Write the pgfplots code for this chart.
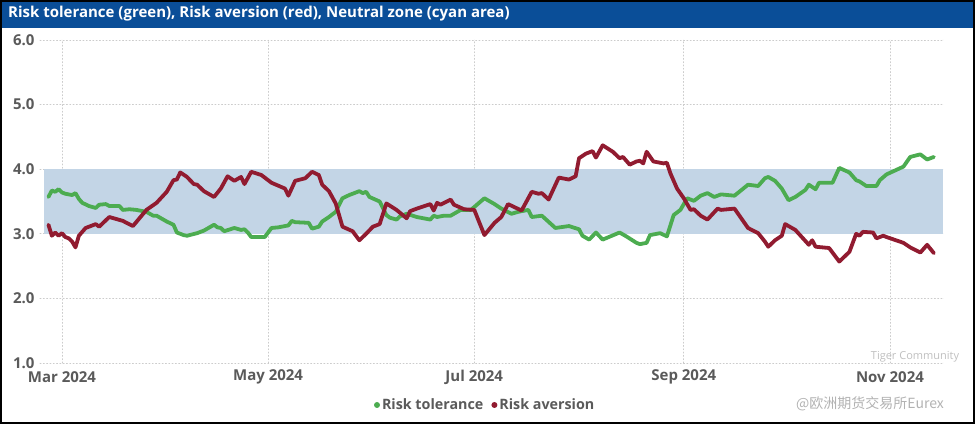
\documentclass[border=0pt]{standalone}
\usepackage{pgfplots}
\pgfplotsset{compat=1.18}
\usepackage{pgfplotstable}
\usepackage{fontspec}
\setmainfont{Open Sans}
\newfontfamily\cjk{Noto Sans CJK SC}

\definecolor{titleblue}{RGB}{10,78,152}
\definecolor{tolgreen}{RGB}{76,172,80}
\definecolor{averred}{RGB}{145,27,48}
\definecolor{zoneblue}{RGB}{195,213,230}
\definecolor{ticktext}{RGB}{90,90,90}

% x = days since 1 Mar 2024, y = indicator value
\pgfplotstableread{
d v
-4 3.57
-3 3.67
-2 3.65
-1 3.69
0 3.64
1 3.62
3 3.60
4 3.63
5 3.54
6 3.48
8 3.43
10 3.40
11 3.45
13 3.46
14 3.43
17 3.43
18 3.37
20 3.38
22 3.37
25 3.34
27 3.28
28 3.28
31 3.19
33 3.14
34 3.02
36 2.98
37 2.97
40 3.01
42 3.05
45 3.14
46 3.10
47 3.09
48 3.04
51 3.09
53 3.06
54 3.07
55 3.02
56 2.95
60 2.95
62 3.09
64 3.10
67 3.13
68 3.20
69 3.18
73 3.17
74 3.08
76 3.11
77 3.19
79 3.26
81 3.34
83 3.55
85 3.60
88 3.66
89 3.63
90 3.65
91 3.57
94 3.50
96 3.29
97 3.25
99 3.22
100 3.27
102 3.31
105 3.26
109 3.22
110 3.28
111 3.26
113 3.28
115 3.28
118 3.37
121 3.37
125 3.55
128 3.46
130 3.39
133 3.31
135 3.34
138 3.37
139 3.26
142 3.28
146 3.09
150 3.12
153 3.07
154 2.97
156 2.91
158 3.02
160 2.91
165 3.02
167 2.96
170 2.86
171 2.84
173 2.86
174 2.98
177 3.01
179 2.96
181 3.29
183 3.37
185 3.55
187 3.51
189 3.59
191 3.63
193 3.57
195 3.61
199 3.59
203 3.76
206 3.74
208 3.86
209 3.88
211 3.82
213 3.70
215 3.52
217 3.57
220 3.68
221 3.76
223 3.69
224 3.79
228 3.79
230 4.02
233 3.95
235 3.83
236 3.81
238 3.74
241 3.74
242 3.83
244 3.92
249 4.04
251 4.19
254 4.23
256 4.15
258 4.19
}\toltable

\pgfplotstableread{
d v
-4 3.14
-3 2.97
-2 3.02
-1 2.97
0 3.01
1 2.95
2 2.93
3 2.88
4 2.79
5 2.97
7 3.09
10 3.15
11 3.11
14 3.26
18 3.20
21 3.12
25 3.37
28 3.48
31 3.65
33 3.83
34 3.84
35 3.95
37 3.88
39 3.77
40 3.76
42 3.66
45 3.57
47 3.70
49 3.89
51 3.82
53 3.88
54 3.77
56 3.96
59 3.91
62 3.79
66 3.70
67 3.59
69 3.82
72 3.86
74 3.96
76 3.91
77 3.76
79 3.66
81 3.47
83 3.11
86 3.04
88 2.90
90 3.00
92 3.11
94 3.15
96 3.47
99 3.37
102 3.24
103 3.35
105 3.39
109 3.46
110 3.36
111 3.48
112 3.45
115 3.53
116 3.45
119 3.38
122 3.37
125 2.98
128 3.17
130 3.26
132 3.46
136 3.36
139 3.65
141 3.62
142 3.63
144 3.53
147 3.87
150 3.84
152 3.89
153 4.17
155 4.24
157 4.28
158 4.18
160 4.37
163 4.27
165 4.17
166 4.19
168 4.07
170 4.12
171 4.13
172 4.09
173 4.27
175 4.12
178 4.09
179 4.10
180 3.94
182 3.70
184 3.55
186 3.37
187 3.38
189 3.28
191 3.22
194 3.39
195 3.37
199 3.39
203 3.09
206 3.01
208 2.88
209 2.80
211 2.90
213 2.97
214 3.15
217 3.06
221 2.83
222 2.90
223 2.80
227 2.78
230 2.57
233 2.72
235 3.00
236 2.97
237 3.03
240 3.02
241 2.93
243 2.97
244 2.95
249 2.86
251 2.79
254 2.71
256 2.83
258 2.70
}\avtable

\begin{document}
\begin{tikzpicture}
\begin{axis}[
  at={(0pt,0pt)}, anchor=south west,
  width=903pt, height=323pt,
  scale only axis,
  xmin=-6.5, xmax=260.7,
  ymin=1, ymax=6,
  xtick={0,61,122,184,245},
  xticklabels={Mar 2024,May 2024,Jul 2024,Sep 2024,Nov 2024},
  ytick={1,2,3,4,5,6},
  /pgf/number format/fixed,
  /pgf/number format/fixed zerofill,
  /pgf/number format/precision=1,
  /pgf/number format/assume math mode=true,
  ticklabel style={font=\bfseries\fontsize{15}{15}\selectfont, text=ticktext},
  xticklabel style={anchor=center, yshift=-14pt},
  yticklabel style={xshift=-2pt},
  major tick length=0pt,
  axis line style={draw=none},
  grid=major,
  grid style={dash pattern=on 1.1pt off 2.2pt, black!20, line width=0.7pt},
  legend style={at={(0.493,-0.13)}, anchor=center, draw=none, fill=none,
    legend columns=-1, font=\bfseries\fontsize{14.3}{14.3}\selectfont, text=ticktext,
    /tikz/every even column/.append style={column sep=6pt},
    /tikz/every odd column/.append style={column sep=0pt}},
  legend image code/.code={\fill[#1, draw=none] (0.3cm,0cm) circle (3pt);},
  line join=round, line cap=round,
]
\addplot[fill=zoneblue, draw=none, forget plot] coordinates {(-5.3,3) (260.7,3) (260.7,4) (-5.3,4)} -- cycle;
\addplot[tolgreen, line width=3.8pt] table[x=d, y=v] {\toltable};
\addlegendentry{Risk tolerance}
\addplot[averred, line width=3.8pt] table[x=d, y=v] {\avtable};
\addlegendentry{Risk aversion}
\end{axis}
% frame and title bar
\fill[titleblue] (-40pt,335pt) rectangle (935pt,363pt);
\node[anchor=west, text=white, font=\bfseries\fontsize{15}{15}\selectfont, inner sep=0pt] at (-32pt,349pt)
  {Risk tolerance (green), Risk aversion (red), Neutral zone (cyan area)};
\draw[black, line width=2pt] (-39pt,-60pt) rectangle (934pt,362pt);
% watermark
\node[text=black!25, font=\fontsize{11}{11}\selectfont] at (875pt,6pt) {Tiger Community};
\node[text=black!30, font=\cjk\fontsize{14}{14}\selectfont] at (830pt,-41pt) {@欧洲期货交易所Eurex};
\end{tikzpicture}
\end{document}
